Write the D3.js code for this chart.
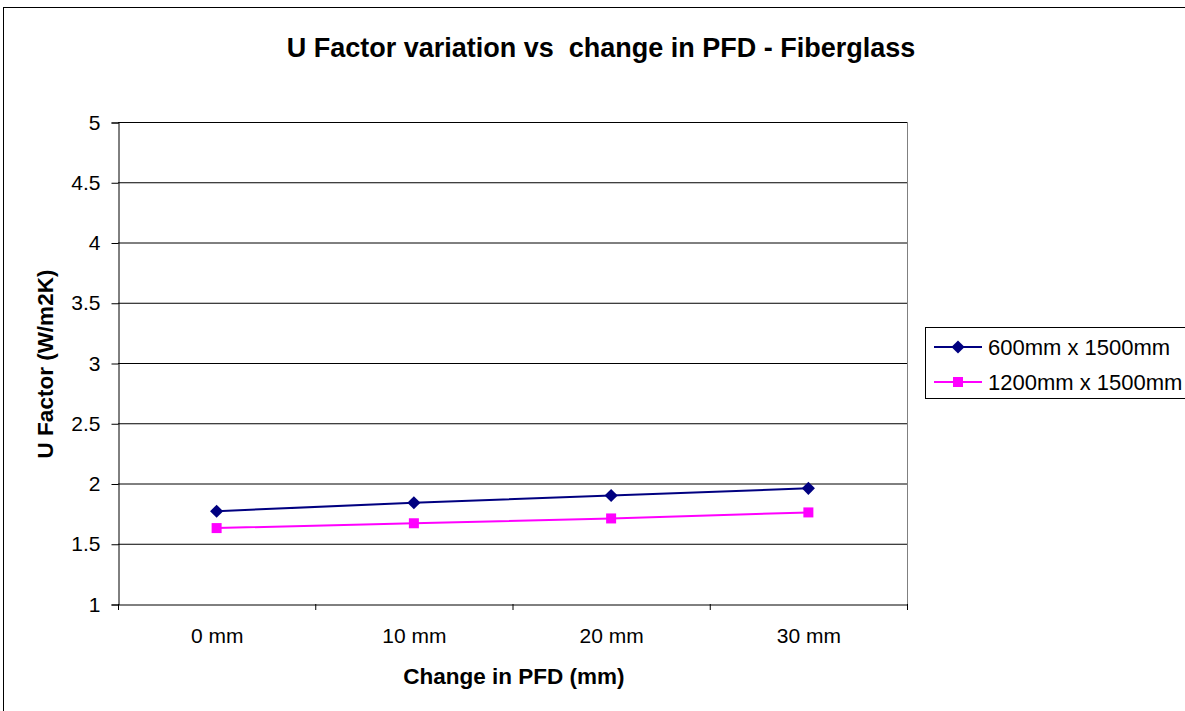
<!DOCTYPE html>
<html><head><meta charset="utf-8">
<script src="https://cdn.jsdelivr.net/npm/d3@7"></script>
<style>body{margin:0;background:#fff;font-family:"Liberation Sans",Arial,sans-serif;}</style>
</head><body><svg id="c" width="1185" height="711"></svg>
<script>
const categories = ["0 mm","10 mm","20 mm","30 mm"];
const series600 = [1.77, 1.84, 1.90, 1.96];
const series1200 = [1.63, 1.67, 1.71, 1.76];
const yTicks = [1,1.5,2,2.5,3,3.5,4,4.5,5];
const seriesNames = ["600mm x 1500mm","1200mm x 1500mm"];
const colors = ["#000080","#ff00ff"];

const svg = d3.select("#c");
const F = '"Liberation Sans",Arial,sans-serif';
svg.append("rect").attr("x",3.5).attr("y",7.5).attr("width",1190).attr("height",710)
  .attr("fill","#fff").attr("stroke","#000").attr("stroke-width",1);

const L=118,R=907,T=122,B=604;
const x = d3.scaleBand().domain(categories).range([L,R]);
const y = d3.scaleLinear().domain([1,5]).range([B,T]);

// gridlines
svg.append("g").selectAll("line").data(yTicks.filter(d=>d>1)).join("line")
  .attr("x1",L).attr("x2",R).attr("y1",d=>y(d)+0.5).attr("y2",d=>y(d)+0.5)
  .attr("stroke","#000").attr("stroke-width",1);
// right border
svg.append("line").attr("x1",R+0.5).attr("x2",R+0.5).attr("y1",T).attr("y2",B).attr("stroke","#808080");

// y axis
const ya = svg.append("g").attr("transform",`translate(${L+0.5},0.5)`)
  .call(d3.axisLeft(y).tickValues(yTicks).tickSize(7).tickPadding(11).tickFormat(d=>d));
ya.select(".domain").attr("stroke","#000");
ya.selectAll("text").attr("font-family",F).attr("font-size",21).attr("fill","#000");

// x axis
const xa = svg.append("g").attr("transform",`translate(0.5,${B+0.5})`)
  .call(d3.axisBottom(x).tickSize(0).tickPadding(24));
xa.select(".domain").attr("stroke","#000");
xa.selectAll("text").attr("font-family",F).attr("font-size",21).attr("fill","#000");
// x tick marks at band boundaries
svg.append("g").selectAll("line").data(categories.map(c=>x(c)).concat([R])).join("line")
  .attr("x1",d=>d+0.5).attr("x2",d=>d+0.5).attr("y1",B).attr("y2",B+6).attr("stroke","#000");

const cx = d => x(d)+x.bandwidth()/2;
const line = d3.line().x((d,i)=>cx(categories[i])).y(d=>y(d));
[series600, series1200].forEach((s,k)=>{
  svg.append("path").datum(s).attr("d",line).attr("fill","none").attr("stroke",colors[k]).attr("stroke-width",2);
});
const diamond = d3.symbol().type(d3.symbolDiamond2).size(110);
svg.append("g").selectAll("path").data(series600).join("path")
  .attr("transform",(d,i)=>`translate(${cx(categories[i])},${y(d)})`)
  .attr("d",diamond).attr("fill",colors[0]);
svg.append("g").selectAll("rect").data(series1200).join("rect")
  .attr("x",(d,i)=>cx(categories[i])-5).attr("y",d=>y(d)-5).attr("width",10).attr("height",10).attr("fill",colors[1]);

// title
svg.append("text").attr("x",601).attr("y",57).attr("text-anchor","middle")
  .attr("font-family",F).attr("font-weight","bold").attr("font-size",27).attr("xml:space","preserve").style("white-space","pre")
  .text("U Factor variation vs  change in PFD - Fiberglass");
svg.append("text").attr("x",514).attr("y",684).attr("text-anchor","middle")
  .attr("font-family",F).attr("font-weight","bold").attr("font-size",22.5).text("Change in PFD (mm)");
svg.append("text").attr("transform","translate(53,364) rotate(-90)").attr("text-anchor","middle")
  .attr("font-family",F).attr("font-weight","bold").attr("font-size",22.5).text("U Factor (W/m2K)");

// legend
const lg = svg.append("g");
lg.append("rect").attr("x",925.5).attr("y",327.5).attr("width",280).attr("height",71).attr("fill","#fff").attr("stroke","#000");
seriesNames.forEach((n,k)=>{
  const yy = 347 + k*35;
  lg.append("line").attr("x1",934).attr("x2",982).attr("y1",yy).attr("y2",yy).attr("stroke",colors[k]).attr("stroke-width",2);
  if(k===0) lg.append("path").attr("transform",`translate(958,${yy})`).attr("d",diamond).attr("fill",colors[0]);
  else lg.append("rect").attr("x",953).attr("y",yy-5).attr("width",10).attr("height",10).attr("fill",colors[1]);
  lg.append("text").attr("x",988).attr("y",yy+8).attr("font-family",F).attr("font-size",22).text(n);
});
</script></body></html>
